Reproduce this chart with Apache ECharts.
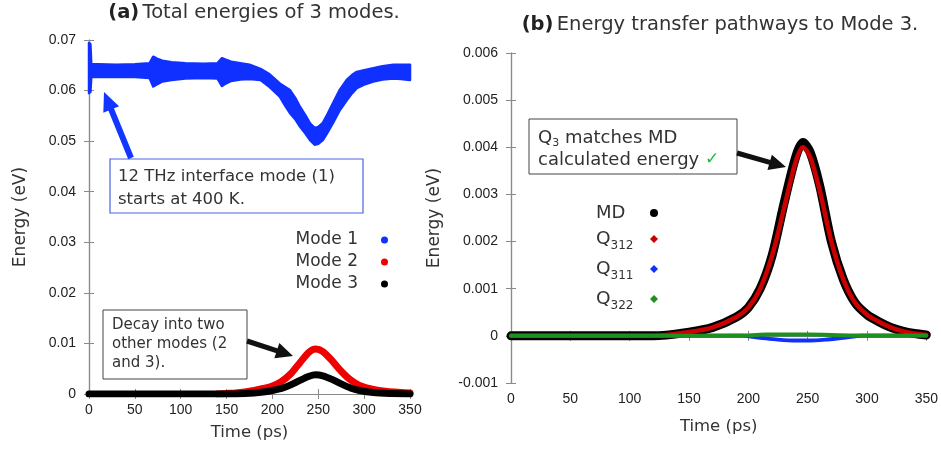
<!DOCTYPE html>
<html>
<head>
<meta charset="utf-8">
<script src="https://cdn.jsdelivr.net/npm/echarts@6/dist/echarts.min.js"></script>
<style>
  html, body { margin: 0; padding: 0; background: #fff; }
  #main { width: 941px; height: 450px; }
</style>
</head>
<body>
<div id="main"></div>
<script>
// ---- panel (a): total energies of 3 modes ----
var timeMode1 = [0, 1.5, 2.5, 10, 30, 50, 66, 70, 74, 80, 90, 105, 125, 140, 145, 149, 155, 165, 175, 187, 197, 208, 214, 219, 225, 230, 236, 241, 246, 250, 255, 260, 266, 273, 281, 287, 292, 300, 310, 320, 332, 340, 350];
var mode1High = [0.0694, 0.0692, 0.0652, 0.0652, 0.0651, 0.0652, 0.0654, 0.0667, 0.0663, 0.0659, 0.0656, 0.0654, 0.0653, 0.0654, 0.0664, 0.0661, 0.0657, 0.0654, 0.0651, 0.0643, 0.0632, 0.0614, 0.0607, 0.0601, 0.0585, 0.0568, 0.0551, 0.0535, 0.0526, 0.0528, 0.0536, 0.0553, 0.0575, 0.0600, 0.0621, 0.0631, 0.0637, 0.0640, 0.0644, 0.0648, 0.0651, 0.0651, 0.0651];
var mode1Low  = [0.0595, 0.0597, 0.0627, 0.0627, 0.0627, 0.0627, 0.0625, 0.0608, 0.0612, 0.0618, 0.0621, 0.0624, 0.0625, 0.0624, 0.0609, 0.0614, 0.0619, 0.0622, 0.0623, 0.0621, 0.0607, 0.0588, 0.0570, 0.0556, 0.0543, 0.0529, 0.0515, 0.0502, 0.0493, 0.0495, 0.0502, 0.0517, 0.0536, 0.0560, 0.0581, 0.0595, 0.0605, 0.0612, 0.0618, 0.0622, 0.0624, 0.0623, 0.0621];

var timeMode2 = [140, 150, 160, 170, 180, 190, 200, 210, 220, 230, 240, 247, 255, 265, 275, 285, 295, 310, 325, 340, 350];
var mode2 = [0, 0.0001, 0.0002, 0.0004, 0.0007, 0.0011, 0.0016, 0.0025, 0.0040, 0.0062, 0.0083, 0.0089, 0.0084, 0.0066, 0.0045, 0.0028, 0.0017, 0.0009, 0.0005, 0.0003, 0.0002];

var timeMode3 = [0, 150, 170, 190, 200, 210, 220, 230, 240, 247, 255, 265, 275, 285, 295, 310, 330, 350];
var mode3 = [0, 0, 0.0001, 0.0004, 0.0007, 0.0011, 0.0018, 0.0027, 0.0035, 0.0038, 0.0036, 0.0029, 0.0020, 0.0012, 0.0007, 0.0003, 0.0001, 0];

// ---- panel (b): energy transfer pathways to mode 3 ----
var timeB = [0, 120, 150, 170, 190, 200, 210, 220, 230, 240, 246, 252, 260, 270, 280, 290, 300, 310, 320, 330, 340, 350];
var md   = [0, 0, 0.00008, 0.00018, 0.0004, 0.0006, 0.0010, 0.0017, 0.0028, 0.0038, 0.0041, 0.0039, 0.0032, 0.0020, 0.0012, 0.0007, 0.00045, 0.0003, 0.00018, 0.0001, 0.00005, 0.00002];
var q312 = [0, 0, 0.00008, 0.00018, 0.0004, 0.0006, 0.0010, 0.0017, 0.0027, 0.0037, 0.0040, 0.0038, 0.0031, 0.0020, 0.0012, 0.0007, 0.00045, 0.0003, 0.00018, 0.0001, 0.00005, 0.00002];
var timeQ311 = [0, 195, 210, 225, 240, 250, 265, 280, 296, 350];
var q311 = [0, 0, -0.00004, -0.00008, -0.0001, -0.0001, -0.00008, -0.00004, 0, 0];
var timeQ322 = [0, 120, 200, 215, 250, 290, 350];
var q322 = [0, 0, 0.00001, 0.00003, 0.00003, 0.00001, 0.00001];

var xTicks = { min: 0, max: 350, interval: 50 };

var F = '"DejaVu Sans", sans-serif';
var NUM = '"Liberation Sans", Arial, sans-serif';
var FRAME = '#8a8a8a';
var BLUE = '#1030ff';

function pairs(xs, ys) {
  var out = [];
  for (var i = 0; i < xs.length; i++) out.push([xs[i], ys[i]]);
  return out;
}
function fmt(v) {
  return v === 0 ? '0' : String(+v.toFixed(4));
}

function xAxes(grid, gap) {
  var base = {
    gridIndex: grid, type: 'value', min: xTicks.min, max: xTicks.max, interval: xTicks.interval,
    axisLine: { show: true, lineStyle: { color: FRAME, width: 1.2 } },
    axisTick: { show: true, inside: true, length: 5, lineStyle: { color: FRAME } },
    splitLine: { show: false }
  };
  return [
    Object.assign({}, base, {
      position: 'bottom',
      axisLabel: { margin: 9, fontSize: 14, color: '#222', fontFamily: NUM },
      name: 'Time (ps)', nameLocation: 'middle', nameGap: gap,
      nameTextStyle: { fontSize: 16.5, color: '#333', fontFamily: F }
    }),
    Object.assign({}, base, { position: 'top', axisLabel: { show: false } })
  ];
}
function yAxes(grid, min, max, interval, gap) {
  var base = {
    gridIndex: grid, type: 'value', min: min, max: max, interval: interval,
    axisLine: { show: true, lineStyle: { color: FRAME, width: 1.2 } },
    axisTick: { show: true, inside: true, length: 5, lineStyle: { color: FRAME } },
    splitLine: { show: false }
  };
  return [
    Object.assign({}, base, {
      position: 'left',
      axisLabel: { margin: 13, fontSize: 14, color: '#222', fontFamily: NUM, formatter: fmt },
      name: 'Energy (eV)', nameLocation: 'middle', nameGap: gap,
      nameTextStyle: { fontSize: 17, color: '#333', fontFamily: F }
    }),
    Object.assign({}, base, { position: 'right', axisLabel: { show: false } })
  ];
}

function line(name, xi, data, color, width, extra) {
  return Object.assign({
    name: name, type: 'line', xAxisIndex: xi, yAxisIndex: xi, data: data,
    showSymbol: false, symbol: 'none', smooth: 0.3, animation: false,
    lineStyle: { color: color, width: width, cap: 'round', join: 'round' },
    itemStyle: { color: color }
  }, extra || {});
}

// noisy band of mode 1, drawn as one polygon between its low and high edges
function bandSeries() {
  var data = [];
  for (var i = 0; i < timeMode1.length; i++) data.push([timeMode1[i], mode1Low[i], mode1High[i]]);
  return {
    name: 'Mode 1', type: 'custom', xAxisIndex: 0, yAxisIndex: 0, data: data,
    encode: { x: 0, y: [1, 2] }, itemStyle: { color: BLUE }, animation: false, z: 2,
    renderItem: function (params, api) {
      if (params.dataIndex !== 0) return null;
      var pts = [];
      for (var i = 0; i < data.length; i++) pts.push(api.coord([data[i][0], data[i][2]]));
      for (var j = data.length - 1; j >= 0; j--) pts.push(api.coord([data[j][0], data[j][1]]));
      return {
        type: 'polygon', shape: { points: pts },
        style: { fill: BLUE, stroke: BLUE, lineWidth: 2.5, lineJoin: 'round' }
      };
    }
  };
}

function arrow(x0, y0, x1, y1, color, shaftW, headL, headW) {
  var dx = x1 - x0, dy = y1 - y0, len = Math.sqrt(dx * dx + dy * dy);
  var ux = dx / len, uy = dy / len, px = -uy, py = ux;
  var bx = x1 - ux * headL, by = y1 - uy * headL;
  return [
    { type: 'line', shape: { x1: x0, y1: y0, x2: bx + ux * 2, y2: by + uy * 2 },
      style: { stroke: color, lineWidth: shaftW }, z: 100 },
    { type: 'polygon', shape: { points: [[x1, y1], [bx + px * headW / 2, by + py * headW / 2], [bx - px * headW / 2, by - py * headW / 2]] },
      style: { fill: color }, z: 100 }
  ];
}

function txt(x, y, s, size) {
  return { type: 'text', x: x, y: y, z: 101,
    style: { text: s, fontSize: size, fontFamily: F, fill: '#333', verticalAlign: 'middle' } };
}

var graphics = [
  // titles
  { type: 'text', x: 254, y: 13, style: {
      text: '{b|(a)} {n|Total energies of 3 modes.}', align: 'center', verticalAlign: 'middle',
      rich: { b: { fontSize: 19.5, fontWeight: 'bold', fontFamily: F, fill: '#222' },
              n: { fontSize: 19.5, fontFamily: F, fill: '#333' } } } },
  { type: 'text', x: 720, y: 25, style: {
      text: '{b|(b)} {n|Energy transfer pathways to Mode 3.}', align: 'center', verticalAlign: 'middle',
      rich: { b: { fontSize: 19.5, fontWeight: 'bold', fontFamily: F, fill: '#222' },
              n: { fontSize: 19.5, fontFamily: F, fill: '#333' } } } },
  // blue annotation box
  { type: 'rect', shape: { x: 110, y: 159, width: 253, height: 54 }, style: { fill: '#fff', stroke: '#4a63e0', lineWidth: 1.2 }, z: 90 },
  txt(118, 177, '12 THz interface mode (1)', 16.5),
  txt(118, 200, 'starts at 400 K.', 16.5),
  // decay box
  { type: 'rect', shape: { x: 103, y: 310, width: 144, height: 69 }, style: { fill: '#fff', stroke: '#444', lineWidth: 1 }, z: 90 },
  txt(112, 325, 'Decay into two', 15),
  txt(112, 344, 'other modes (2', 15),
  txt(112, 363, 'and 3).', 15),
  // Q3 box
  { type: 'rect', shape: { x: 529, y: 119, width: 208, height: 55 }, style: { fill: '#fff', stroke: '#444', lineWidth: 1 }, z: 90 },
  { type: 'text', x: 538, y: 138, z: 101, style: {
      text: '{n|Q}{s|3}{n| matches MD}', verticalAlign: 'middle',
      rich: { n: { fontSize: 18, fontFamily: F, fill: '#333', lineHeight: 22 },
              s: { fontSize: 11, fontFamily: F, fill: '#333', lineHeight: 22, verticalAlign: 'bottom' } } } },
  { type: 'text', x: 538, y: 160, z: 101, style: {
      text: '{n|calculated energy }{c|✓}', verticalAlign: 'middle',
      rich: { n: { fontSize: 18, fontFamily: F, fill: '#333' },
              c: { fontSize: 17, fontFamily: F, fill: '#19c040' } } } }
].concat(
  arrow(131, 158, 104, 92, '#1236ff', 6, 19, 17),
  arrow(247, 341, 293, 356, '#111', 5, 17, 16),
  arrow(737, 153, 786, 167, '#111', 5, 17, 16)
);

var option = {
  backgroundColor: '#fff',
  animation: false,
  grid: [
    { left: 89, top: 40, width: 321, height: 354 },
    { left: 511, top: 53, width: 416, height: 330 }
  ],
  xAxis: xAxes(0, 30).concat(xAxes(1, 35)),
  yAxis: yAxes(0, 0, 0.07, 0.01, 60).concat(yAxes(1, -0.001, 0.006, 0.001, 68)),
  legend: [
    {
      orient: 'vertical', align: 'right', left: 281, top: 225,
      itemWidth: 7, itemHeight: 7, itemGap: 2, icon: 'circle',
      textStyle: { fontSize: 17, fontFamily: F, color: '#333', width: 72, align: 'right', lineHeight: 20, padding: [0, 18, 0, 0] },
      data: ['Mode 1', 'Mode 2', 'Mode 3']
    },
    {
      orient: 'vertical', align: 'right', left: 591, top: 199,
      itemWidth: 8, itemHeight: 8, itemGap: 7.5,
      formatter: function (name) {
        return name === 'MD' ? '{m|MD}' : '{q|Q}{s|' + name.slice(1) + '}';
      },
      textStyle: {
        fontSize: 18, fontFamily: F, color: '#333', width: 49, align: 'left',
        rich: {
          m: { fontSize: 18, fontFamily: F, color: '#333', lineHeight: 26, align: 'left' },
          q: { fontSize: 18.5, fontFamily: F, color: '#333', lineHeight: 26, align: 'left' },
          s: { fontSize: 12, fontFamily: F, color: '#333', lineHeight: 26, verticalAlign: 'bottom', align: 'left' }
        }
      },
      data: [
        { name: 'MD', icon: 'circle' },
        { name: 'Q312', icon: 'diamond' },
        { name: 'Q311', icon: 'diamond' },
        { name: 'Q322', icon: 'diamond' }
      ]
    }
  ],
  series: [
    bandSeries(),
    line('Mode 2', 0, pairs(timeMode2, mode2), '#f00000', 7),
    line('Mode 3', 0, pairs(timeMode3, mode3), '#000000', 7),

    line('MD', 2, pairs(timeB, md), '#000000', 9),
    line('Q312', 2, pairs(timeB, q312), '#cc0000', 4.5),
    line('Q311', 2, pairs(timeQ311, q311), BLUE, 4),
    line('Q322', 2, pairs(timeQ322, q322), '#1f8f1f', 4)
  ],
  graphic: graphics
};

var chart = echarts.init(document.getElementById('main'));
chart.setOption(option);
</script>
</body>
</html>
